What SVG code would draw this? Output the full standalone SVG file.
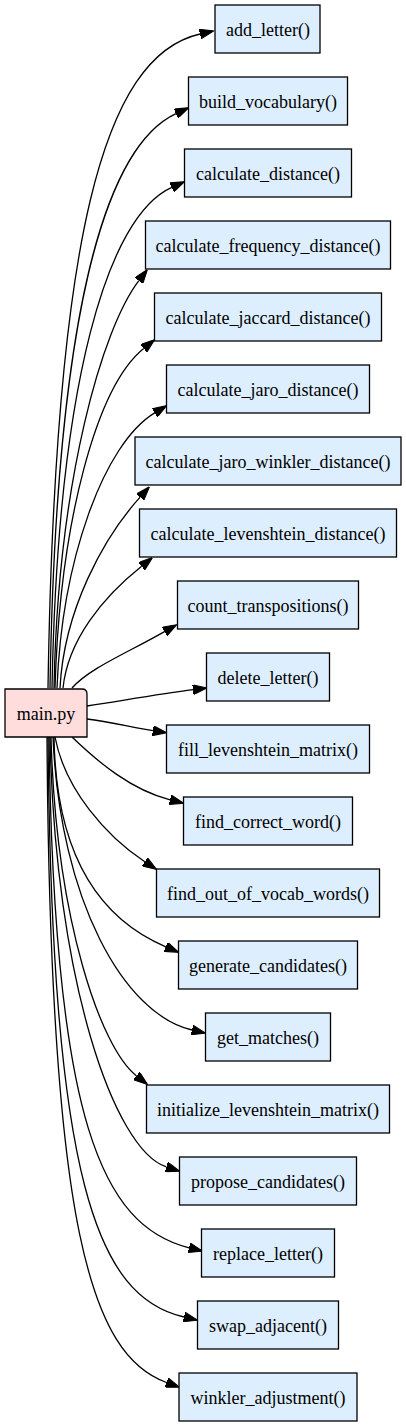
<svg xmlns="http://www.w3.org/2000/svg" width="406" height="1427" viewBox="0 0 406 1427">
<style>
.fn rect{fill:#ddeeff;stroke:#000;stroke-width:1.3}
.main path{fill:#ffdddd;stroke:#000;stroke-width:1.3}
text{font-family:"Liberation Serif","Times New Roman",serif;font-size:18px;text-anchor:middle;fill:#000}
#edges path{fill:none;stroke:#000;stroke-width:1.3;marker-end:url(#ah)}
</style>
<defs>
<marker id="ah" markerUnits="userSpaceOnUse" markerWidth="14" markerHeight="10" viewBox="0 0 13.3 9.4" refX="0" refY="4.7" orient="auto">
<path d="M0,0 L13.3,4.7 L0,9.4 Z" fill="#000" stroke="#000" stroke-width="1"/>
</marker>
</defs>
<rect width="406" height="1427" fill="#fff"/>
<g id="edges">
<path d="M48,688 C55,240 102.5,56 200,34"/>
<path d="M50,688 C56,320 103.5,147.4 176,113.6"/>
<path d="M52,688 C58,380 108,216 171.8,187.4"/>
<path d="M54,688 C58,480 102.4,328 138.9,280.6"/>
<path d="M55,688 C60,520 97,386 143.7,348.4"/>
<path d="M57,688 C62,560 103.5,444 154.7,412.9"/>
<path d="M60,688 C64,610 103.3,538 140.1,497.1"/>
<path d="M63,688 C68,640 102.5,597.5 141.6,566.3"/>
<path d="M72,688 C90,668 125.4,653.9 164.5,631.6"/>
<path d="M87,706 C120,701 160,694 193,689.7"/>
<path d="M87,719 C110,722 135,728 152.9,730.7"/>
<path d="M72,737 C98,762 131.3,790 170.1,799.8"/>
<path d="M55,737 C65,790 107,837 144.8,861.8"/>
<path d="M54,737 C56,870 110.5,923.3 165.8,946.8"/>
<path d="M53,737 C60,900 123.8,1014.3 192,1030"/>
<path d="M51,737 C56,920 100.9,1048.4 136.5,1075.9"/>
<path d="M50,737 C55,980 114.1,1149.9 166.4,1166.9"/>
<path d="M49,737 C54,1120 101.8,1226 189.1,1247.8"/>
<path d="M48,737 C52,1180 96.3,1296.7 184,1317"/>
<path d="M47,737 C50,1230 91.3,1355 166.5,1382.5"/>
</g>
<g id="main" class="main">
<path d="M5,689 L82,689 Q87,689 87,694 L87,737 L5,737 Z"/>
<text x="46" y="720">main.py</text>
</g>
<g id="add_letter" class="fn"><rect x="215" y="5" width="105" height="48"/><text x="268" y="36">add_letter()</text></g>
<g id="build_vocabulary" class="fn"><rect x="188.5" y="77" width="159" height="48"/><text x="268" y="108">build_vocabulary()</text></g>
<g id="calculate_distance" class="fn"><rect x="184.5" y="149" width="167" height="48"/><text x="268" y="180">calculate_distance()</text></g>
<g id="calculate_frequency_distance" class="fn"><rect x="145.5" y="221" width="245" height="48"/><text x="268" y="252">calculate_frequency_distance()</text></g>
<g id="calculate_jaccard_distance" class="fn"><rect x="154.5" y="293" width="227" height="48"/><text x="268" y="324">calculate_jaccard_distance()</text></g>
<g id="calculate_jaro_distance" class="fn"><rect x="166.5" y="365" width="203" height="48"/><text x="268" y="396">calculate_jaro_distance()</text></g>
<g id="calculate_jaro_winkler_distance" class="fn"><rect x="135" y="437" width="266" height="48"/><text x="268" y="468">calculate_jaro_winkler_distance()</text></g>
<g id="calculate_levenshtein_distance" class="fn"><rect x="139.5" y="509" width="257" height="48"/><text x="268" y="540">calculate_levenshtein_distance()</text></g>
<g id="count_transpositions" class="fn"><rect x="177.5" y="581" width="181" height="48"/><text x="268" y="612">count_transpositions()</text></g>
<g id="delete_letter" class="fn"><rect x="206.5" y="653" width="123" height="48"/><text x="268" y="684">delete_letter()</text></g>
<g id="fill_levenshtein_matrix" class="fn"><rect x="166.5" y="725" width="203" height="48"/><text x="268" y="756">fill_levenshtein_matrix()</text></g>
<g id="find_correct_word" class="fn"><rect x="183.5" y="797" width="169" height="48"/><text x="268" y="828">find_correct_word()</text></g>
<g id="find_out_of_vocab_words" class="fn"><rect x="156.5" y="869" width="223" height="48"/><text x="268" y="900">find_out_of_vocab_words()</text></g>
<g id="generate_candidates" class="fn"><rect x="178.5" y="941" width="179" height="48"/><text x="268" y="972">generate_candidates()</text></g>
<g id="get_matches" class="fn"><rect x="205.5" y="1013" width="125" height="48"/><text x="268" y="1044">get_matches()</text></g>
<g id="initialize_levenshtein_matrix" class="fn"><rect x="146.5" y="1085" width="243" height="48"/><text x="268" y="1116">initialize_levenshtein_matrix()</text></g>
<g id="propose_candidates" class="fn"><rect x="179.5" y="1157" width="177" height="48"/><text x="268" y="1188">propose_candidates()</text></g>
<g id="replace_letter" class="fn"><rect x="201.5" y="1229" width="133" height="48"/><text x="268" y="1260">replace_letter()</text></g>
<g id="swap_adjacent" class="fn"><rect x="197.5" y="1301" width="141" height="48"/><text x="268" y="1332">swap_adjacent()</text></g>
<g id="winkler_adjustment" class="fn"><rect x="179" y="1373" width="178" height="48"/><text x="268" y="1404">winkler_adjustment()</text></g>
</svg>
